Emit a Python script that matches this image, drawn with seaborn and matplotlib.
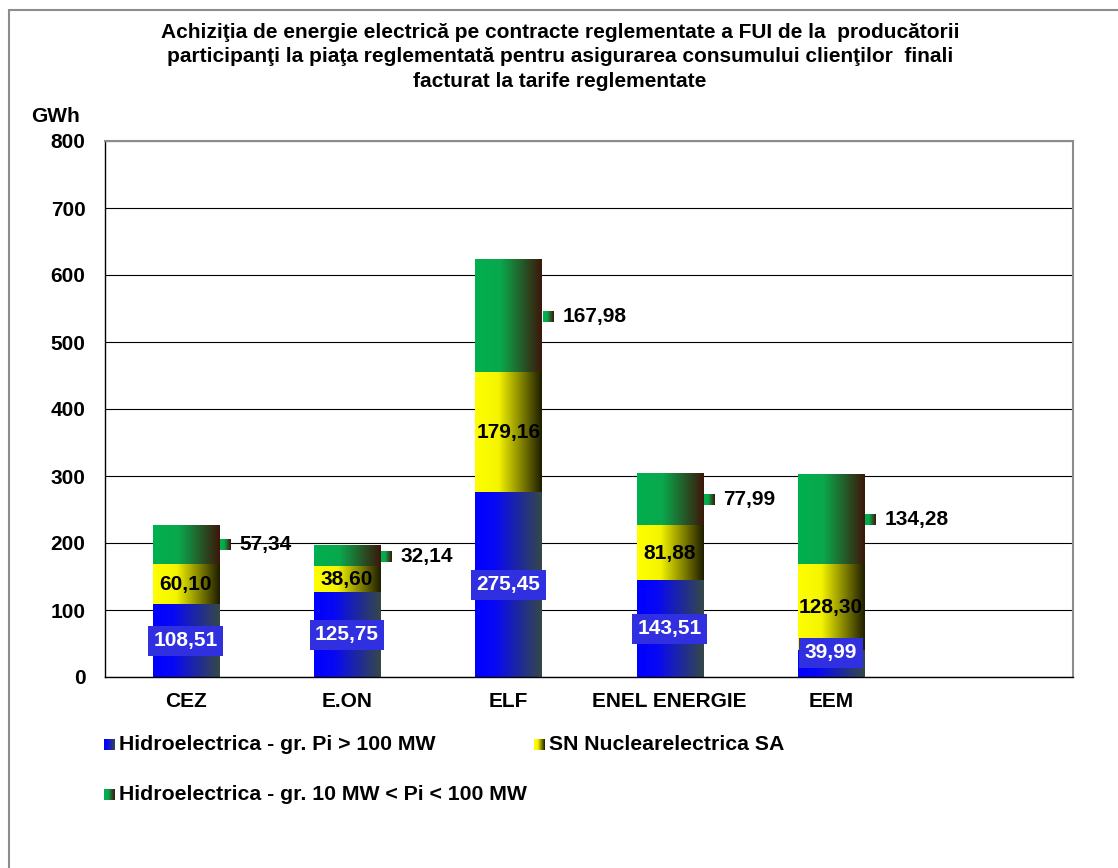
import matplotlib
matplotlib.use("Agg")
import matplotlib.pyplot as plt
import numpy as np
import pandas as pd
import seaborn as sns
from matplotlib.colors import LinearSegmentedColormap
from matplotlib.offsetbox import OffsetImage, AnnotationBbox
from matplotlib.lines import Line2D

# Date (GWh)
furnizori = ['CEZ', 'E.ON', 'ELF', 'ENEL ENERGIE', 'EEM']
hidro_peste_100 = [108.51, 125.75, 275.45, 143.51, 39.99]
nuclear = [60.10, 38.60, 179.16, 81.88, 128.30]
hidro_10_100 = [57.34, 32.14, 167.98, 77.99, 134.28]

serii = ['Hidroelectrica - gr. Pi > 100 MW',
         'SN Nuclearelectrica SA',
         'Hidroelectrica - gr. 10 MW < Pi < 100 MW']

titlu = ("Achiziţia de energie electrică pe contracte reglementate a FUI de la  producătorii\n"
         "participanţi la piaţa reglementată pentru asigurarea consumului clienţilor  finali\n"
         "facturat la tarife reglementate")

sns.set_style("white")
plt.rcParams['font.family'] = ['Liberation Sans', 'DejaVu Sans']
plt.rcParams['font.weight'] = 'bold'
plt.rcParams['text.color'] = 'black'
plt.rcParams['xtick.color'] = 'black'
plt.rcParams['ytick.color'] = 'black'

# gradient orizontal ca in Excel
grad_albastru = LinearSegmentedColormap.from_list('alb', [(0, '#0000ff'), (0.3, '#0808f6'), (1, '#344848')])
grad_galben = LinearSegmentedColormap.from_list('gal', [(0, '#ffff00'), (0.35, '#f4f400'), (1, '#1e1e00')])
grad_verde = LinearSegmentedColormap.from_list('ver', [(0, '#00b050'), (0.38, '#0aa84c'), (1, '#3c160a')])
grad = np.linspace(0, 1, 200).reshape(1, -1)

df = pd.DataFrame({'furnizor': furnizori,
                   'p100': hidro_peste_100,
                   'nuc': nuclear,
                   'mic': hidro_10_100})
df['cum2'] = df['p100'] + df['nuc']
df['total'] = df['cum2'] + df['mic']

W, H = 1118, 868
fig = plt.figure(figsize=(W / 100, H / 100), dpi=100)
ax = fig.add_axes([105 / W, 1 - 677 / H, (1073 - 105) / W, (677 - 141) / H])

FS = 15
latime = 0.41
straturi = [('total', grad_verde, '#00b050'),
            ('cum2', grad_galben, '#ffff00'),
            ('p100', grad_albastru, '#0000ff')]
for k, (col, cmap, c) in enumerate(straturi):
    n0 = len(ax.patches)
    sns.barplot(data=df, x='furnizor', y=col, color=c, saturation=1,
                width=latime, errorbar=None, ax=ax)
    for p in ax.patches[n0:]:
        x0, y0 = p.get_x(), p.get_y()
        ax.imshow(grad, cmap=cmap, aspect='auto', interpolation='bilinear',
                  extent=(x0, x0 + p.get_width(), y0, y0 + p.get_height()),
                  zorder=2 + k * 0.1)
        p.set_visible(False)

def fmt(v):
    return f"{v:.2f}".replace('.', ',')

# etichete
for i, row in df.iterrows():
    y_alb = max(row['p100'] / 2, 36)
    ax.text(i, y_alb, fmt(row['p100']), ha='center', va='center', color='white',
            fontsize=FS, fontweight='bold', zorder=6,
            bbox=dict(boxstyle='square,pad=0.26', fc='#3030e0', ec='none'))
    ax.text(i, row['p100'] + row['nuc'] / 2, fmt(row['nuc']), ha='center', va='center',
            color='black', fontsize=FS, fontweight='bold', zorder=6)
    y_v = row['cum2'] + row['mic'] / 2
    cheie = OffsetImage(np.tile(np.linspace(0, 1, 40), (40, 1)), cmap=grad_verde,
                        zoom=11 / (40 * 100 / 72))
    ab = AnnotationBbox(cheie, (i + latime / 2, y_v), xybox=(0.8, 0), boxcoords='offset points',
                        box_alignment=(0, 0.5), frameon=False, zorder=6)
    ax.add_artist(ab)
    ax.annotate(fmt(row['mic']), (i + latime / 2, y_v), xytext=(15, 0),
                textcoords='offset points', ha='left', va='center',
                fontsize=FS, fontweight='bold', color='black', zorder=6)

ax.set_xlim(-0.5, 5.5)
ax.set_ylim(0, 800)
ax.set_yticks(np.arange(0, 801, 100))
ax.set_xticks(range(len(furnizori)))
ax.set_xticklabels(furnizori)
ax.set_xticks(np.arange(-0.5, 5.6, 1), minor=True)
ax.tick_params(axis='x', which='major', length=0, pad=11, labelsize=FS)
ax.tick_params(axis='x', which='minor', length=6, width=1, direction='out', color='black')
ax.tick_params(axis='y', length=6, width=1, direction='out', color='black', pad=8, labelsize=FS)
ax.set_xlabel('')
ax.set_ylabel('')
ax.yaxis.grid(True, color='black', lw=0.8)
ax.set_axisbelow(True)
for s in ['left', 'bottom']:
    ax.spines[s].set_color('black')
    ax.spines[s].set_linewidth(1)
for s in ['top', 'right']:
    ax.spines[s].set_color('#8c8c8c')
    ax.spines[s].set_linewidth(1.5)
for lbl in ax.get_xticklabels() + ax.get_yticklabels():
    lbl.set_fontweight('bold')

fig.text(55 / W, 1 - 117 / H, 'GWh', ha='center', va='center', fontsize=FS, fontweight='bold')
fig.text(560 / W, 1 - 57 / H, titlu, ha='center', va='center', multialignment='center',
         fontsize=15, fontweight='bold', linespacing=1.34)

# legenda
harti = [grad_albastru, grad_galben, grad_verde]
poz = [(104, 745), (534, 745), (104, 795)]
for nume, cmap, (px, py) in zip(serii, harti, poz):
    cheie = OffsetImage(np.tile(np.linspace(0, 1, 40), (40, 1)), cmap=cmap,
                        zoom=11 / (40 * 100 / 72))
    ab = AnnotationBbox(cheie, (px, H - py), xycoords='figure pixels',
                        box_alignment=(0, 0.5), frameon=False)
    fig.add_artist(ab)
    fig.text((px + 15) / W, 1 - py / H, nume, ha='left', va='center',
             fontsize=15.3, fontweight='bold')

# chenar exterior
fig.add_artist(Line2D([9 / W, 1], [1 - 10 / H, 1 - 10 / H], transform=fig.transFigure,
                      color='#8c8c8c', lw=1.5))
fig.add_artist(Line2D([9 / W, 9 / W], [0, 1 - 10 / H], transform=fig.transFigure,
                      color='#8c8c8c', lw=1.5))

fig.savefig('out.png', dpi=100)
